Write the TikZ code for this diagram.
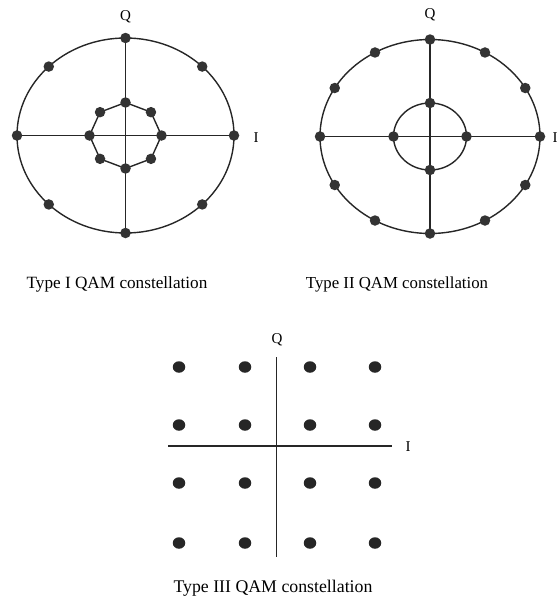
\documentclass[tikz,border=0pt]{standalone}
\usepackage{fontspec}
\setmainfont{Liberation Serif}
\usetikzlibrary{shapes.geometric}
\begin{document}
\begin{tikzpicture}[x=1pt,y=-1pt,
  axis/.style={draw=black!85,line width=1.1pt},
  ring/.style={draw=black!85,line width=1.4pt},
  dot/.style={circle,fill=black!80,inner sep=0pt,minimum size=10.5pt},
  sqdot/.style={ellipse,fill=black!85,inner sep=0pt,minimum width=12.5pt,minimum height=11.5pt},
  lbl/.style={font=\fontsize{15}{15}\selectfont,inner sep=0pt},
  captext/.style={inner sep=0pt,anchor=base}]
\useasboundingbox (0,0) rectangle (559,597);
% ---------- Type I ----------
\draw[ring] (125.5,135.5) ellipse [x radius=108.5, y radius=97.5];
\foreach \i in {0,...,7}{
  \pgfmathsetmacro{\a}{45*\i}
  \coordinate (ao\i) at ({125.5+108.5*cos(\a)},{135.5-97.5*sin(\a)});
  \coordinate (ai\i) at ({125.5+36*cos(\a)},{135.5-33*sin(\a)});
}
\draw[ring] (ai0)--(ai1)--(ai2)--(ai3)--(ai4)--(ai5)--(ai6)--(ai7)--cycle;
\draw[axis] (ao4)--(ao0);
\draw[axis] (ao2)--(ao6);
\foreach \i in {0,...,7}{
  \node[dot] (aod\i) at (ao\i) {};
  \node[dot] (aid\i) at (ai\i) {};
}
\node[lbl] (q1) at (125.5,17) {Q};
\node[lbl] (i1) at (256,138) {I};
\node[captext,font=\fontsize{17.2}{17.2}\selectfont] (c1) at (117,288) {Type I QAM constellation};
% ---------- Type II ----------
\draw[ring] (430,136.5) ellipse [x radius=110, y radius=97];
\draw[ring] (430,136.5) ellipse [x radius=36.5, y radius=33.5];
\foreach \i in {0,...,11}{
  \pgfmathsetmacro{\a}{30*\i}
  \coordinate (bo\i) at ({430+110*cos(\a)},{136.5-97*sin(\a)});
}
\foreach \i in {0,...,3}{
  \pgfmathsetmacro{\a}{90*\i}
  \coordinate (bi\i) at ({430+36.5*cos(\a)},{136.5-33.5*sin(\a)});
}
\draw[axis] (bo6)--(bo0);
\draw[axis] (bo3)--(bo9);
\foreach \i in {0,...,11}{ \node[dot] (bod\i) at (bo\i) {}; }
\foreach \i in {0,...,3}{ \node[dot] (bid\i) at (bi\i) {}; }
\node[lbl] (q2) at (430,15) {Q};
\node[lbl] (i2) at (555,138) {I};
\node[captext,font=\fontsize{16.8}{16.8}\selectfont] (c2) at (397,288) {Type II QAM constellation};
% ---------- Type III ----------
\coordinate (vt) at (276.7,357);
\coordinate (vb) at (276.7,557);
\coordinate (hl) at (168,446);
\coordinate (hr) at (392,446);
\draw[axis,line width=1.5pt] (vt)--(vb);
\draw[axis,line width=1.2pt] (hl)--(hr);
\foreach \x [count=\c] in {179,245,310,375}{
  \foreach \y [count=\r] in {367,425,483,543}{
    \node[sqdot] (s\c\r) at (\x,\y) {};
  }
}
\node[lbl] (q3) at (277,340) {Q};
\node[lbl] (i3) at (408,447) {I};
\node[captext,font=\fontsize{17.8}{17.8}\selectfont] (c3) at (273,592) {Type III QAM constellation};
\end{tikzpicture}
\end{document}
